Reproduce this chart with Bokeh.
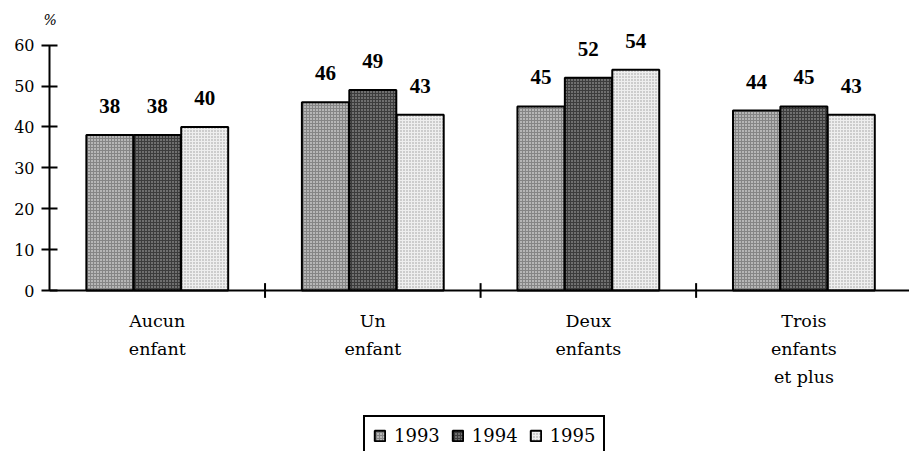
from bokeh.plotting import figure
from bokeh.models import (ColumnDataSource, FixedTicker, LinearAxis, Legend,
                          LegendItem, Range1d, Span)
from bokeh.transform import dodge
from bokeh.core.properties import value
from bokeh.embed import file_html
from bokeh.resources import INLINE

categories = ["Aucun\nenfant", "Un\nenfant", "Deux\nenfants", "Trois\nenfants\net plus"]
years = ["1993", "1994", "1995"]
v1993 = [38, 46, 45, 44]
v1994 = [38, 49, 52, 45]
v1995 = [40, 43, 54, 43]
y_ticks = [0, 10, 20, 30, 40, 50, 60]
unit_label = "%"

pos = [i + 0.5 for i in range(len(categories))]
separators = [1, 2, 3]
src = ColumnDataSource(dict(
    pos=pos,
    v1993=v1993, v1994=v1994, v1995=v1995,
    l1993=[str(v) for v in v1993],
    l1994=[str(v) for v in v1994],
    l1995=[str(v) for v in v1995],
))

PX = 4.09  # pixels per unit
p = figure(width=909, height=451, x_range=Range1d(0, 3.99),
           y_range=Range1d(-(451 - 290) / PX, (290 - 28) / PX),
           output_backend="svg", toolbar_location=None,
           x_axis_type=None, y_axis_type=None,
           min_border_left=49, min_border_right=0, min_border_top=28,
           min_border_bottom=0)
p.outline_line_color = None
p.xgrid.visible = False
p.ygrid.visible = False
p.background_fill_color = "white"
p.border_fill_color = "white"

p.title.text = unit_label
p.title.align = "left"
p.title.offset = -6
p.title.standoff = 1
p.title.text_font = "DejaVu Serif"
p.title.text_font_size = "14px"
p.title.text_font_style = "italic"
p.title.text_color = "black"

# y axis
yax = LinearAxis(ticker=FixedTicker(ticks=y_ticks), bounds=(0, 60))
yax.major_tick_in = 8
yax.major_tick_out = 8
yax.minor_tick_line_color = None
yax.axis_line_width = 2
yax.major_tick_line_width = 2
yax.major_label_text_font = "DejaVu Serif"
yax.major_label_text_font_size = "16px"
yax.major_label_text_color = "black"
yax.major_label_standoff = 7
p.add_layout(yax, "left")

# x axis line at zero and category separators
p.add_layout(Span(location=0, dimension="width", line_color="black", line_width=2))
p.segment(x0=separators, y0=[-1.8] * 3, x1=separators, y1=[1.8] * 3,
          line_color="black", line_width=2)

# category labels
p.text(x=pos, y=[0] * len(pos), text=categories,
       text_font=value("DejaVu Serif"), text_font_size="17.5px",
       text_align="center", text_baseline="top", text_line_height=1.4,
       y_offset=20, text_color="black")

styles = [
    dict(fill_color="#858585", hatch_pattern="dot", hatch_color="white", hatch_scale=3, hatch_weight=1),
    dict(fill_color="#3c3c3c", hatch_pattern="dot", hatch_color="#bbbbbb", hatch_scale=3, hatch_weight=1),
    dict(fill_color="#eeeeee", hatch_pattern="dot", hatch_color="#999999", hatch_scale=3, hatch_weight=1),
]
offsets = [-0.22, 0.0, 0.22]
items = []
for yr, off, st in zip(years, offsets, styles):
    r = p.vbar(x=dodge("pos", off, range=p.x_range), top="v" + yr, width=0.218,
               source=src, line_color="black", line_width=2, **st)
    p.text(x=dodge("pos", off, range=p.x_range), y="v" + yr, text="l" + yr, source=src,
           text_font=value("Liberation Serif"), text_font_style="bold",
           text_font_size="21px", text_align="center", text_baseline="bottom",
           y_offset=-22, text_color="black")
    items.append(LegendItem(label=yr, renderers=[r]))

legend = Legend(items=items, orientation="horizontal", location=(314, -5))
legend.border_line_color = "black"
legend.border_line_width = 2
legend.border_line_alpha = 1
legend.background_fill_color = "white"
legend.background_fill_alpha = 1
legend.label_text_font = "DejaVu Serif"
legend.label_text_font_size = "18px"
legend.label_text_color = "black"
legend.glyph_width = 13
legend.glyph_height = 13
legend.label_standoff = 8
legend.spacing = 11
legend.padding = 8
legend.margin = 0
p.add_layout(legend)

open("out.html", "w").write(file_html(p, INLINE))
